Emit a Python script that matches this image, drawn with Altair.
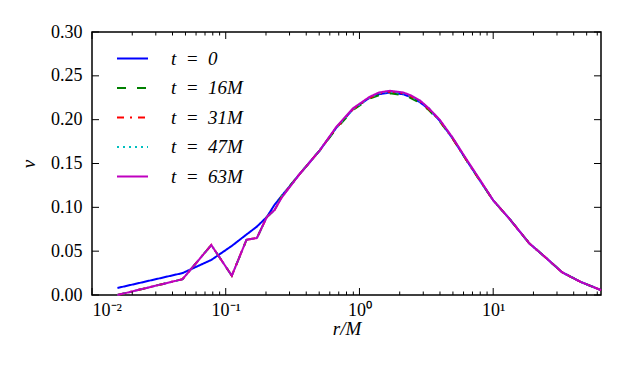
import altair as alt
import pandas as pd

# ---- data ----
series = ["t\u2002=\u20020", "t\u2002=\u200216M", "t\u2002=\u200231M", "t\u2002=\u200247M", "t\u2002=\u200263M"]
colors = ["#0000ff", "#008000", "#ff0000", "#00bfbf", "#bf00bf"]
dashes = [[1, 0], [9, 11], [7, 6, 2, 6], [2, 4], [1, 0]]

r_low = [0.0155, 0.0475, 0.078, 0.111, 0.143, 0.171, 0.203, 0.232]
v_low_t0 = [0.008, 0.025, 0.040, 0.056, 0.069, 0.078, 0.089, 0.103]
v_low_late = [0.000, 0.018, 0.057, 0.022, 0.063, 0.065, 0.089, 0.097]

r_main = [0.262, 0.357, 0.401, 0.505, 0.673, 0.896, 1.19, 1.4, 1.69, 2.12, 2.4, 2.83,
          3.3, 3.98, 5.0, 6.3, 8.0, 10.0, 13.3, 18.6, 25.0, 32.7, 45.0, 64.0]
v_main_t0 = [0.113, 0.138, 0.147, 0.165, 0.191, 0.212, 0.225, 0.229, 0.231, 0.229, 0.226, 0.220,
             0.212, 0.199, 0.178, 0.154, 0.130, 0.108, 0.0865, 0.059, 0.042, 0.026, 0.015, 0.0055]
v_main_t16 = [0.113, 0.138, 0.147, 0.165, 0.190, 0.211, 0.224, 0.228, 0.230, 0.228, 0.225, 0.219,
              0.211, 0.198, 0.178, 0.154, 0.130, 0.108, 0.0865, 0.059, 0.042, 0.026, 0.015, 0.0055]
v_main_t31 = [0.112, 0.138, 0.147, 0.165, 0.191, 0.212, 0.225, 0.230, 0.232, 0.230, 0.227, 0.221,
              0.212, 0.199, 0.178, 0.154, 0.130, 0.108, 0.0865, 0.059, 0.042, 0.026, 0.015, 0.0055]
v_main_t47 = [0.112, 0.138, 0.147, 0.165, 0.191, 0.212, 0.225, 0.230, 0.232, 0.230, 0.227, 0.221,
              0.213, 0.199, 0.179, 0.154, 0.130, 0.108, 0.0865, 0.059, 0.042, 0.026, 0.015, 0.0055]
v_main_t63 = [0.111, 0.138, 0.147, 0.165, 0.192, 0.213, 0.226, 0.231, 0.233, 0.231, 0.228, 0.222,
              0.213, 0.200, 0.179, 0.155, 0.131, 0.108, 0.0865, 0.059, 0.042, 0.026, 0.015, 0.0055]

x_major = [0.01, 0.1, 1, 10]
x_minor = [0.02, 0.03, 0.04, 0.05, 0.06, 0.07, 0.08, 0.09,
           0.2, 0.3, 0.4, 0.5, 0.6, 0.7, 0.8, 0.9,
           2, 3, 4, 5, 6, 7, 8, 9, 20, 30, 40, 50, 60]
y_ticks = [0.0, 0.05, 0.10, 0.15, 0.20, 0.25, 0.30]

# ---- build tables ----
low_vals = [v_low_t0, v_low_late, v_low_late, v_low_late, v_low_late]
main_vals = [v_main_t0, v_main_t16, v_main_t31, v_main_t47, v_main_t63]
rows = []
for name, lv, mv in zip(series, low_vals, main_vals):
    for r, v in zip(r_low + r_main, lv + mv):
        rows.append({"r": r, "v": v, "t": name})
df = pd.DataFrame(rows)
df_xmaj = pd.DataFrame({"r": x_major})
df_xmin = pd.DataFrame({"r": x_minor})
df_y = pd.DataFrame({"v": y_ticks})

W, H = 509, 263
FONT = "Liberation Serif"
MAJ, MIN = 7, 3.5
xscale = alt.Scale(type="log", domain=[0.01, 64], nice=False)
yscale = alt.Scale(domain=[0, 0.3], nice=False, zero=False)

label_expr = ("datum.value == 0.01 ? '10\u207b\u00b2' : datum.value == 0.1 ? '10\u207b\u00b9' : "
              "datum.value == 1 ? '10\u2070' : '10\u00b9'")

legend_kw = dict(orient="none", legendX=24, legendY=10, symbolType="stroke",
                 symbolSize=961, symbolStrokeWidth=2, labelFont=FONT,
                 labelFontSize=19, labelFontStyle="italic", labelOffset=22,
                 rowPadding=2.5, padding=0, labelColor="black")

lines = alt.Chart(df).mark_line(strokeWidth=2).encode(
    x=alt.X("r:Q", scale=xscale, title="r/M",
            axis=alt.Axis(orient="bottom", values=x_major, labelExpr=label_expr, ticks=False,
                          domain=False, grid=False, labelPadding=6, labelFont=FONT,
                          labelFontSize=18, labelColor="black", titleFont=FONT,
                          titleFontSize=19, titleFontStyle="italic", titleFontWeight="normal",
                          titleColor="black", titlePadding=0)),
    y=alt.Y("v:Q", scale=yscale, title="v",
            axis=alt.Axis(orient="left", values=y_ticks, format=".2f", ticks=False,
                          domain=False, grid=False, labelPadding=10, labelFont=FONT,
                          labelFontSize=18, labelColor="black", titleFont=FONT,
                          titleFontSize=19, titleFontStyle="italic", titleFontWeight="normal",
                          titleColor="black", titlePadding=12)),
    color=alt.Color("t:N", scale=alt.Scale(domain=series, range=colors), title=None,
                    legend=alt.Legend(**legend_kw)),
    strokeDash=alt.StrokeDash("t:N", scale=alt.Scale(domain=series, range=dashes), title=None,
                              legend=alt.Legend(**legend_kw)),
)


def xticks(data, y0, y1):
    return alt.Chart(data).mark_rule(color="black", strokeWidth=1).encode(
        x=alt.X("r:Q", scale=xscale, title="r/M"),
        y=alt.value(y0), y2=alt.value(y1))


def yticks(x0, x1):
    return alt.Chart(df_y).mark_rule(color="black", strokeWidth=1).encode(
        y=alt.Y("v:Q", scale=yscale, title="v"),
        x=alt.value(x0), x2=alt.value(x1))


ticks = [
    xticks(df_xmaj, H, H - MAJ), xticks(df_xmaj, 0, MAJ),
    xticks(df_xmin, H, H - MIN), xticks(df_xmin, 0, MIN),
    yticks(0, MAJ), yticks(W - MAJ, W),
]

chart = alt.layer(lines, *ticks).properties(
    width=W, height=H,
    autosize=alt.AutoSizeParams(type="none"),
    padding={"left": 84, "top": 24, "right": 14, "bottom": 50},
    background="white",
).configure_view(stroke="#000000", strokeWidth=1.5, strokeOpacity=1)

chart.save("out.html", embed_options={"renderer": "svg", "actions": False})
